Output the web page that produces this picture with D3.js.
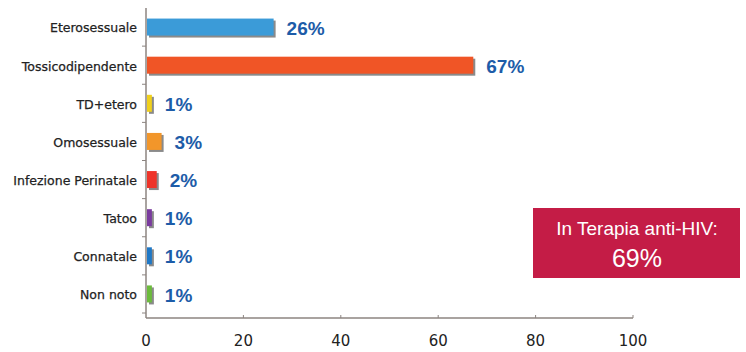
<!DOCTYPE html>
<html>
<head>
<meta charset="utf-8">
<script src="https://cdn.jsdelivr.net/npm/d3@7"></script>
<style>
  body { margin: 0; background: #fff; }
  svg { display: block; }
</style>
</head>
<body>
<div id="viz"></div>
<script>
const categories = ["Eterosessuale", "Tossicodipendente", "TD+etero", "Omosessuale",
  "Infezione Perinatale", "Tatoo", "Connatale", "Non noto"];
const values = [26, 67, 1, 3, 2, 1, 1, 1];
const barColors = ["#3b9bd8", "#f05526", "#f0d01c", "#f2962a", "#ee3429", "#7a3b9e", "#1f78c6", "#6cbb3c"];
const xTicks = [0, 20, 40, 60, 80, 100];
const boxLines = ["In Terapia anti-HIV:", "69%"];

const width = 746, height = 352;

const svg = d3.select("#viz")
  .append("svg")
    .attr("width", width)
    .attr("height", height);

const x = d3.scaleLinear()
  .domain([0, 100])
  .range([146, 633]);

const y = d3.scaleBand()
  .domain(categories)
  .range([8, 313])
  .padding(0);

const axisY = 318;
const barH = 17;

// axes
svg.append("line")
  .attr("x1", x(0)).attr("x2", x(0))
  .attr("y1", 8).attr("y2", axisY)
  .attr("stroke", "#8c8480").attr("stroke-width", 1.5);

svg.append("line")
  .attr("x1", x(0)).attr("x2", x(100))
  .attr("y1", axisY).attr("y2", axisY)
  .attr("stroke", "#8c8480").attr("stroke-width", 1.5);

// small ticks between categories on the y axis
svg.selectAll("line.ytick")
  .data(categories)
  .join("line")
    .attr("class", "ytick")
    .attr("x1", x(0) - 4).attr("x2", x(0))
    .attr("y1", d => y(d) + y.step())
    .attr("y2", d => y(d) + y.step())
    .attr("stroke", "#8c8480");

svg.selectAll("line.xtick")
  .data(xTicks.slice(1))
  .join("line")
    .attr("class", "xtick")
    .attr("x1", d => x(d)).attr("x2", d => x(d))
    .attr("y1", axisY - 3).attr("y2", axisY)
    .attr("stroke", "#8c8480");

svg.selectAll("text.xlabel")
  .data(xTicks)
  .join("text")
    .attr("class", "xlabel")
    .attr("x", d => x(d))
    .attr("y", 346)
    .attr("text-anchor", "middle")
    .style("font-family", "DejaVu Sans, sans-serif")
    .style("font-size", "15px")
    .style("fill", "#222")
    .text(d => d);

// category labels
svg.selectAll("text.cat")
  .data(categories)
  .join("text")
    .attr("class", "cat")
    .attr("x", 137)
    .attr("y", d => y(d) + y.bandwidth() / 2 + 1)
    .attr("dy", "0.35em")
    .attr("text-anchor", "end")
    .style("font-family", "DejaVu Sans, sans-serif")
    .style("font-size", "12.5px")
    .style("fill", "#222")
    .style("stroke", "#222")
    .style("stroke-width", 0.25)
    .text(d => d);

const rows = categories.map((c, i) => ({ cat: c, value: values[i], color: barColors[i] }));

// bar shadows
svg.selectAll("rect.shadow")
  .data(rows)
  .join("rect")
    .attr("class", "shadow")
    .attr("x", x(0) + 3)
    .attr("y", d => y(d.cat) + y.bandwidth() / 2 - barH / 2 + 2)
    .attr("width", d => x(d.value) - x(0))
    .attr("height", barH)
    .attr("fill", "#8a8a8a");

svg.selectAll("rect.bar")
  .data(rows)
  .join("rect")
    .attr("class", "bar")
    .attr("x", x(0) + 1)
    .attr("y", d => y(d.cat) + y.bandwidth() / 2 - barH / 2)
    .attr("width", d => x(d.value) - x(0))
    .attr("height", barH)
    .attr("fill", d => d.color);

svg.selectAll("text.val")
  .data(rows)
  .join("text")
    .attr("class", "val")
    .attr("x", d => x(d.value) + 14)
    .attr("y", d => y(d.cat) + y.bandwidth() / 2 + 1)
    .attr("dy", "0.35em")
    .style("font-family", "Liberation Sans, Arial, sans-serif")
    .style("font-weight", "bold")
    .style("font-size", "19px")
    .style("fill", "#1d5ca8")
    .text(d => d.value + "%");

// red box
const box = svg.append("g").attr("transform", "translate(533,208)");
box.append("rect")
  .attr("width", 207)
  .attr("height", 70)
  .attr("fill", "#c41c46");
box.append("text")
  .attr("x", 104).attr("y", 27)
  .attr("text-anchor", "middle")
  .style("font-family", "Liberation Sans, Arial, sans-serif")
  .style("font-size", "19px")
  .style("fill", "#fff")
  .text(boxLines[0]);
box.append("text")
  .attr("x", 104).attr("y", 59)
  .attr("text-anchor", "middle")
  .style("font-family", "Liberation Sans, Arial, sans-serif")
  .style("font-size", "25px")
  .style("fill", "#fff")
  .text(boxLines[1]);
</script>
</body>
</html>
